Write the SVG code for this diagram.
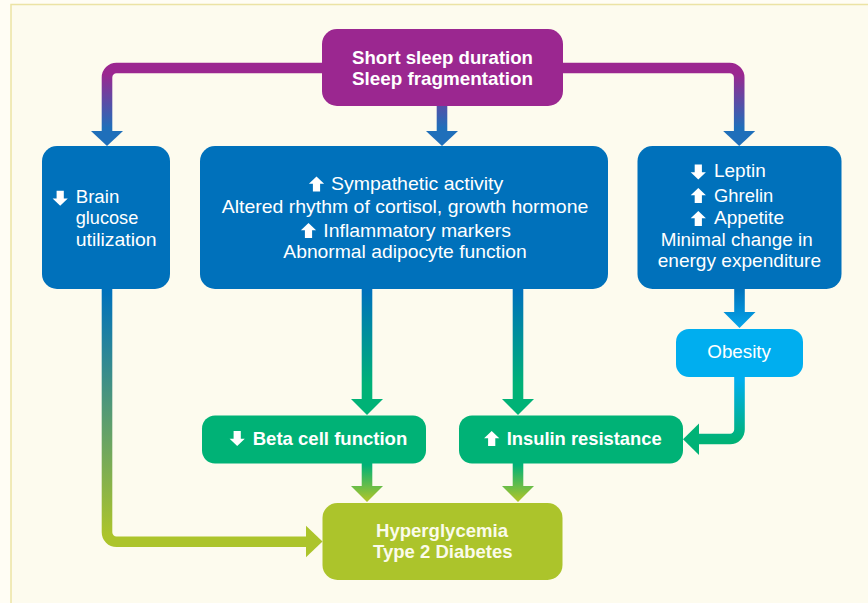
<svg xmlns="http://www.w3.org/2000/svg" width="868" height="603" viewBox="0 0 868 603">
<style>
.t{font-family:"Liberation Sans",Arial,sans-serif;font-size:19px;fill:#ffffff}
.b{font-family:"Liberation Sans",Arial,sans-serif;font-size:19px;font-weight:bold;fill:#ffffff}
.ic{fill:#ffffff}
.ln{fill:none;stroke-width:10.6}
</style>
<defs>
<path id="up" d="M-3.6 15 V7.3 H-7.6 L0 0 L7.6 7.3 H3.6 V15 Z"/>
<path id="down" d="M-3.6 0 V7.7 H-7.6 L0 15 L7.6 7.7 H3.6 V0 Z"/>
<linearGradient id="gTop" gradientUnits="userSpaceOnUse" x1="0" y1="74" x2="0" y2="128"><stop offset="0" stop-color="#9B2790"/><stop offset="1" stop-color="#1F6FBA"/></linearGradient>
<linearGradient id="gMid" gradientUnits="userSpaceOnUse" x1="0" y1="292" x2="0" y2="385"><stop offset="0" stop-color="#0071BB"/><stop offset="1" stop-color="#00B276"/></linearGradient>
<linearGradient id="gOb1" gradientUnits="userSpaceOnUse" x1="0" y1="289" x2="0" y2="328"><stop offset="0" stop-color="#0071BB"/><stop offset="1" stop-color="#05A6EA"/></linearGradient>
<linearGradient id="gOb2" gradientUnits="userSpaceOnUse" x1="0" y1="380" x2="0" y2="440"><stop offset="0" stop-color="#00AEEF"/><stop offset="1" stop-color="#00B276"/></linearGradient>
<linearGradient id="gLow" gradientUnits="userSpaceOnUse" x1="0" y1="465" x2="0" y2="500"><stop offset="0" stop-color="#00B276"/><stop offset="1" stop-color="#ACC42B"/></linearGradient>
<linearGradient id="gBrain" gradientUnits="userSpaceOnUse" x1="0" y1="292" x2="0" y2="535"><stop offset="0" stop-color="#0071BB"/><stop offset="1" stop-color="#ACC42B"/></linearGradient>
</defs>
<rect x="0" y="0" width="868" height="603" fill="#FFFDF4"/>
<rect x="11" y="4" width="857" height="599" fill="#FDFBEE"/>
<path d="M11 603 V4.5 H868" fill="none" stroke="#ECE3A4" stroke-width="1.5"/>
<g id="connectors">
<path class="ln" stroke="url(#gTop)" d="M330 68 H116.5 A9.5 9.5 0 0 0 107 77.5 V132"/>
<polygon fill="#1F6FBA" points="91,131 123,131 107,146"/>
<path class="ln" stroke="url(#gTop)" d="M442 100 V132"/>
<polygon fill="#1F6FBA" points="426,131 458,131 442,146"/>
<path class="ln" stroke="url(#gTop)" d="M555 68 H729.7 A9.5 9.5 0 0 1 739.2 77.5 V132"/>
<polygon fill="#1F6FBA" points="723.2,131 755.2,131 739.2,146"/>
<path class="ln" stroke="url(#gMid)" d="M367 285 V400"/>
<polygon fill="#00B276" points="351,399 383,399 367,415"/>
<path class="ln" stroke="url(#gMid)" d="M518 285 V400"/>
<polygon fill="#00B276" points="502,399 534,399 518,415"/>
<path class="ln" stroke="url(#gOb1)" d="M739.5 285 V313"/>
<polygon fill="url(#gOb1)" points="723.5,312 755.5,312 739.5,328"/>
<path class="ln" stroke="url(#gOb2)" d="M739.5 372 V429.5 A9.5 9.5 0 0 1 730 439 H698"/>
<polygon fill="#00B276" points="699,423.5 699,455 683,439.2"/>
<path class="ln" stroke="url(#gLow)" d="M367 460 V487"/>
<polygon fill="url(#gLow)" points="351,486 383,486 367,502"/>
<path class="ln" stroke="url(#gLow)" d="M518 460 V487"/>
<polygon fill="url(#gLow)" points="502,486 534,486 518,502"/>
<path class="ln" stroke="url(#gBrain)" d="M107 285 V532.2 A9.5 9.5 0 0 0 116.5 541.7 H307"/>
<polygon fill="#ACC42B" points="306,525.7 306,557.3 322.5,541.5"/>
</g>
<g id="sleep">
<rect x="322" y="29" width="241" height="77" rx="15" fill="#9B2790"/>
<text class="b" x="352" y="63.5" textLength="181" lengthAdjust="spacingAndGlyphs">Short sleep duration</text>
<text class="b" x="352" y="84.5" textLength="181" lengthAdjust="spacingAndGlyphs">Sleep fragmentation</text>
</g>
<g id="brain">
<rect x="42" y="146" width="128" height="143" rx="15" fill="#0071BB"/>
<use href="#down" class="ic" x="60.2" y="190.7"/>
<text class="t" x="75.7" y="202.7" textLength="43.6" lengthAdjust="spacingAndGlyphs">Brain</text>
<text class="t" x="75.7" y="224.2" textLength="62.6" lengthAdjust="spacingAndGlyphs">glucose</text>
<text class="t" x="75.7" y="245.7" textLength="81" lengthAdjust="spacingAndGlyphs">utilization</text>
</g>
<g id="mechanisms">
<rect x="200" y="146" width="408" height="143" rx="15" fill="#0071BB"/>
<use href="#up" class="ic" x="316.5" y="176.5"/>
<text class="t" x="331" y="190" textLength="172.3" lengthAdjust="spacingAndGlyphs">Sympathetic activity</text>
<text class="t" x="221.7" y="213.3" textLength="366.6" lengthAdjust="spacingAndGlyphs">Altered rhythm of cortisol, growth hormone</text>
<use href="#up" class="ic" x="308.5" y="223"/>
<text class="t" x="323.3" y="236.7" textLength="187.7" lengthAdjust="spacingAndGlyphs">Inflammatory markers</text>
<text class="t" x="283.3" y="258" textLength="243.4" lengthAdjust="spacingAndGlyphs">Abnormal adipocyte function</text>
</g>
<g id="appetite">
<rect x="637.5" y="146" width="204" height="143" rx="15" fill="#0071BB"/>
<use href="#down" class="ic" x="698.3" y="164.5"/>
<text class="t" x="714" y="177.3" textLength="51.7" lengthAdjust="spacingAndGlyphs">Leptin</text>
<use href="#up" class="ic" x="698.3" y="188"/>
<text class="t" x="714" y="201.7" textLength="59.3" lengthAdjust="spacingAndGlyphs">Ghrelin</text>
<use href="#up" class="ic" x="698.3" y="211"/>
<text class="t" x="714" y="224.2" textLength="70" lengthAdjust="spacingAndGlyphs">Appetite</text>
<text class="t" x="660.7" y="246" textLength="152" lengthAdjust="spacingAndGlyphs">Minimal change in</text>
<text class="t" x="657.7" y="266.8" textLength="163.3" lengthAdjust="spacingAndGlyphs">energy expenditure</text>
</g>
<g id="obesity">
<rect x="676" y="329" width="127" height="48" rx="13" fill="#00AEEF"/>
<text class="t" x="707.3" y="358.3" textLength="63.7" lengthAdjust="spacingAndGlyphs">Obesity</text>
</g>
<g id="beta">
<rect x="202" y="415.5" width="224" height="48" rx="13" fill="#00B276"/>
<use href="#down" class="ic" x="237.2" y="431"/>
<text class="b" x="252.7" y="445" textLength="154.6" lengthAdjust="spacingAndGlyphs">Beta cell function</text>
</g>
<g id="insulin">
<rect x="459" y="415.5" width="224" height="48" rx="13" fill="#00B276"/>
<use href="#up" class="ic" x="491.7" y="431"/>
<text class="b" x="506.7" y="445" textLength="155" lengthAdjust="spacingAndGlyphs">Insulin resistance</text>
</g>
<g id="diabetes">
<rect x="322.5" y="503" width="240" height="77" rx="15" fill="#ACC42B"/>
<text class="b" x="376" y="537" textLength="132" lengthAdjust="spacingAndGlyphs" style="fill:#FBFBEA">Hyperglycemia</text>
<text class="b" x="373" y="558" textLength="139.5" lengthAdjust="spacingAndGlyphs" style="fill:#FBFBEA">Type 2 Diabetes</text>
</g>
</svg>
